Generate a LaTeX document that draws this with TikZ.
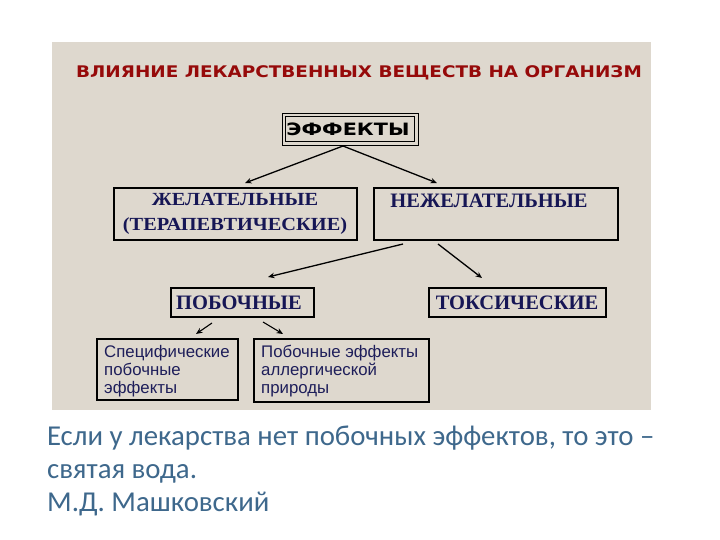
\documentclass[tikz,border=0pt]{standalone}
\usepackage{graphicx}
\usepackage{fontspec}
\setmainfont{Liberation Serif}
\newfontfamily\titlefont{DejaVu Sans}
\newfontfamily\arialfont{Liberation Sans}
\newfontfamily\quotefont{Carlito}
\usetikzlibrary{arrows.meta}
\definecolor{beige}{RGB}{222,216,206}
\definecolor{titlered}{RGB}{150,10,10}
\definecolor{navy}{RGB}{22,22,85}
\definecolor{smallblue}{RGB}{30,30,90}
\definecolor{quoteblue}{RGB}{62,104,140}
\begin{document}
\begin{tikzpicture}[x=1pt,y=-1pt,
  box/.style={draw=black,line width=2.4pt,fill=beige,inner sep=0pt},
  serifbold/.style={font=\fontsize{20.5}{22}\selectfont\bfseries,text=navy},
  small/.style={font=\arialfont\fontsize{16.8}{18}\selectfont,text=smallblue,align=left,inner sep=0pt},
  arr/.style={-{Stealth[length=6.5pt,width=5.5pt]},line width=1.3pt}]
\useasboundingbox (0,0) rectangle (720,540);
\fill[white] (0,0) rectangle (720,540);
\fill[beige] (52,42) rectangle (651,410);
\node[font=\titlefont\bfseries\fontsize{16}{18}\selectfont,text=titlered] (title) at (359,73) {\scalebox{1.15}[1]{ВЛИЯНИЕ ЛЕКАРСТВЕННЫХ ВЕЩЕСТВ НА ОРГАНИЗМ}};
% effects box
\draw[line width=0.8pt,fill=beige] (282,113) rectangle (418,145);
\draw[line width=1.8pt] (285.5,116.5) rectangle (414.5,141.5);
\node[font=\titlefont\bfseries\fontsize{17}{18}\selectfont] (eff) at (348,129) {\scalebox{1.22}[1]{ЭФФЕКТЫ}};
\coordinate (effb) at (343,146);
% level 2
\draw[box] (114,188) rectangle (357,240);
\node[font=\fontsize{18.5}{25}\selectfont\bfseries,text=navy,align=center] (zhel) at (235,214) {\scalebox{1.1}[1]{ЖЕЛАТЕЛЬНЫЕ}\\\scalebox{1.1}[1]{(ТЕРАПЕВТИЧЕСКИЕ)}};
\draw[box] (374,188) rectangle (618,240);
\node[serifbold] (nezhel) at (489,201) {НЕЖЕЛАТЕЛЬНЫЕ};
\coordinate (zhelt) at (245,183);
\coordinate (nezhelt) at (437,183);
\draw[arr] (effb) -- (zhelt);
\draw[arr] (effb) -- (nezhelt);
% level 3
\draw[box] (171,288) rectangle (314,317);
\node[serifbold] (pob) at (239,302.5) {ПОБОЧНЫЕ};
\draw[box] (429,288) rectangle (606,317);
\node[serifbold] (tox) at (517,302.5) {ТОКСИЧЕСКИЕ};
\coordinate (n1) at (403,244);
\coordinate (n2) at (438,244);
\coordinate (pobt) at (268,277);
\coordinate (toxt) at (482,278);
\draw[arr] (n1) -- (pobt);
\draw[arr] (n2) -- (toxt);
% level 4
\draw[box] (97,339) rectangle (238,400);
\node[small,anchor=base west] (spec) at (104,393) {Специфические\\побочные\\эффекты};
\draw[box] (254,339) rectangle (429,402);
\node[small,anchor=base west] (allerg) at (261,393) {Побочные эффекты\\аллергической\\природы};
\coordinate (p1) at (212,323);
\coordinate (p2) at (263,322);
\coordinate (spect) at (196,334);
\coordinate (allergt) at (283,334);
\draw[arr,line width=1.1pt] (p1) -- (spect);
\draw[arr,line width=1.1pt] (p2) -- (allergt);
% quote
\node[font=\quotefont\fontsize{28.8}{33}\selectfont,text=quoteblue,anchor=base west,align=left,inner sep=0pt] (quote) at (47,511)
 {Если у лекарства нет побочных эффектов, то это –\\святая вода.\\М.Д. Машковский};
\end{tikzpicture}
\end{document}
